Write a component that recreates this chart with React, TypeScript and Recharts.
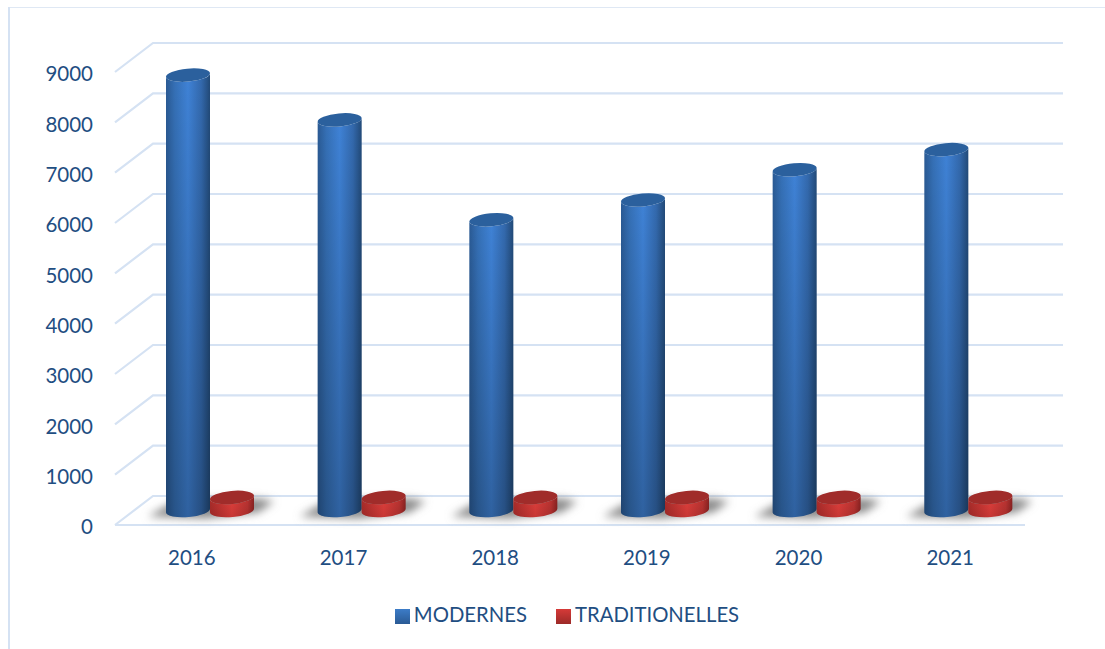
import React from "react";
import { ComposedChart, Bar, XAxis, YAxis, CartesianGrid, Legend } from "recharts";

const years = ["2016", "2017", "2018", "2019", "2020", "2021"];
const modernes = [8650, 7760, 5775, 6170, 6770, 7170];
const traditionelles = [260, 260, 260, 260, 260, 260];
const yTicks = [0, 1000, 2000, 3000, 4000, 5000, 6000, 7000, 8000, 9000];

const rows = years.map((year, i) => ({ year, modernes: modernes[i], traditionelles: traditionelles[i] }));

const TEXT = "#1f4e82";
const GRID = "#d5e2f3";
const FONT = "Lato, 'Open Sans', sans-serif";
const DEPTH_X = 38;
const DEPTH_Y = 29;
const BAR_DX = 19;
const BAR_DY = -14.5;
const RY = 6.5;

function cylinder(x: number, top: number, w: number, bottom: number) {
  const rx = w / 2;
  const t = 2;
  return {
    body: `M${x},${top + t} L${x},${bottom + t} A${rx},${RY} -5 0 0 ${x + w},${bottom - t} L${x + w},${top - t} A${rx},${RY} -5 0 1 ${x},${top + t} Z`,
    cap: `M${x},${top + t} A${rx},${RY} -5 0 1 ${x + w},${top - t} A${rx},${RY} -5 0 1 ${x},${top + t} Z`,
  };
}

function Cyl({ x, y, width, height, side, capColor, shadow, shade }: any) {
  const px = x + BAR_DX;
  const top = y + BAR_DY;
  const bottom = y + height + BAR_DY;
  const c = cylinder(px, top, width, bottom);
  return (
    <g>
      {shadow && (
        <path
          d={`M${px - 18},${bottom + 6} L${px + 10},${bottom - 10} L${px + 92},${bottom - 12} L${px + 108},${bottom - 9} L${px + 92},${bottom + 2} L${px + 40},${bottom + 8} Z`}
          fill="#8a8a8a"
          filter="url(#shadowBlur)"
        />
      )}
      <path d={c.body} fill={`url(#${side})`} />
      <path d={c.body} fill={`url(#${shade})`} />
      <path d={c.cap} fill={capColor} />
    </g>
  );
}

const BlueShape = (p: any) => <Cyl {...p} side="blueSide" capColor="#2b609d" shade="vShade" shadow />;
const RedShape = (p: any) => <Cyl {...p} side="redSide" capColor="#a02c2a" shade="vShadeLight" />;

const gridLine = (p: any) => {
  const { x1, x2, y1, key } = p;
  const isBase = Math.abs(y1 - 525) < 1;
  const d = `M${x1},${y1} L${x1 + DEPTH_X},${y1 - DEPTH_Y} L${x2 + DEPTH_X},${y1 - DEPTH_Y}`;
  return (
    <g key={key ?? y1}>
      <path d={d} fill="none" stroke={GRID} strokeWidth={2.2} />
      {isBase && <path d={`M${x1},${y1} L${x2},${y1}`} fill="none" stroke={GRID} strokeWidth={2.2} />}
    </g>
  );
};

export default function App() {
  return (
    <div style={{ position: "absolute", left: 0, top: 0, width: 1105, height: 649, background: "#fff" }}>
      <div style={{ position: "absolute", left: 8, top: 7, width: 1097, height: 1, background: "#dfe8f4" }} />
      <div style={{ position: "absolute", left: 8, top: 7, width: 2, height: 642, background: "#d5e2f3" }} />
      <ComposedChart
        width={1105}
        height={649}
        data={rows}
        barSize={44}
        barGap={0}
        margin={{ top: 72, right: 80, bottom: 84, left: 0 }}
        style={{ position: "absolute", left: 0, top: 0 }}
      >
        <defs>
          <linearGradient id="blueSide" x1="0" y1="0" x2="1" y2="0">
            <stop offset="0" stopColor="#2a5a94" />
            <stop offset="0.2" stopColor="#3570b6" />
            <stop offset="0.5" stopColor="#3f82d6" />
            <stop offset="0.8" stopColor="#3369ad" />
            <stop offset="1" stopColor="#224a78" />
          </linearGradient>
          <linearGradient id="redSide" x1="0" y1="0" x2="1" y2="0">
            <stop offset="0" stopColor="#ad2d2b" />
            <stop offset="0.5" stopColor="#e23f3c" />
            <stop offset="0.85" stopColor="#bd3432" />
            <stop offset="1" stopColor="#8c2322" />
          </linearGradient>
          <linearGradient id="vShade" x1="0" y1="0" x2="0" y2="1">
            <stop offset="0" stopColor="#000" stopOpacity="0" />
            <stop offset="1" stopColor="#000" stopOpacity="0.25" />
          </linearGradient>
          <linearGradient id="vShadeLight" x1="0" y1="0" x2="0" y2="1">
            <stop offset="0" stopColor="#000" stopOpacity="0" />
            <stop offset="1" stopColor="#000" stopOpacity="0.12" />
          </linearGradient>
          <linearGradient id="blueLegend" x1="0" y1="0" x2="0" y2="1">
            <stop offset="0" stopColor="#3c7cc8" />
            <stop offset="1" stopColor="#2a5a94" />
          </linearGradient>
          <linearGradient id="redLegend" x1="0" y1="0" x2="0" y2="1">
            <stop offset="0" stopColor="#d63a38" />
            <stop offset="1" stopColor="#9c2a28" />
          </linearGradient>
          <filter id="shadowBlur" x="-20%" y="-60%" width="140%" height="220%">
            <feGaussianBlur stdDeviation="4" />
          </filter>
        </defs>
        <CartesianGrid vertical={false} horizontal={gridLine as any} />
        <XAxis
          dataKey="year"
          axisLine={false}
          tickLine={false}
          height={40}
          tickMargin={19}
          tick={{ fill: TEXT, fontSize: 20.5, fontFamily: FONT, dx: 1 }}
          interval={0}
        />
        <YAxis
          domain={[0, 9000]}
          ticks={yTicks}
          width={115}
          axisLine={false}
          tickLine={false}
          tickMargin={16}
          tick={{ fill: TEXT, fontSize: 20.5, fontFamily: FONT, dy: 2 }}
          interval={0}
        />
        <Legend
          layout="horizontal"
          verticalAlign="middle"
          align="center"
          iconType="square"
          iconSize={15}
          wrapperStyle={{ left: 0, top: 602, width: 1163, fontFamily: FONT, fontSize: 20.3 }}
          formatter={(v: string) => <span style={{ color: TEXT, marginRight: 19 }}>{v}</span>}
        />
        <Bar dataKey="modernes" name="MODERNES" fill="url(#blueLegend)" shape={BlueShape} isAnimationActive={false} />
        <Bar dataKey="traditionelles" name="TRADITIONELLES" fill="url(#redLegend)" shape={RedShape} isAnimationActive={false} />
      </ComposedChart>
    </div>
  );
}
